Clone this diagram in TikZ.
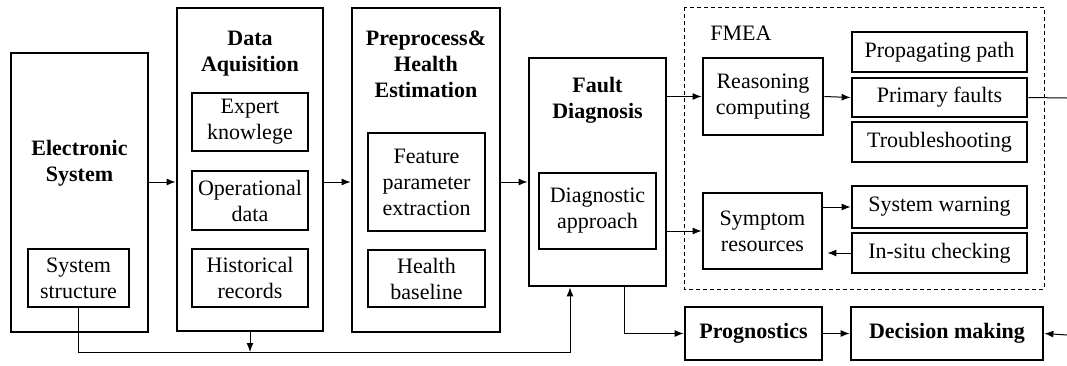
\documentclass[tikz,border=0pt]{standalone}
\usepackage{fontspec}
\setmainfont{Liberation Serif}
\usepackage{tikz}
\usetikzlibrary{arrows.meta}

\newcommand{\figfont}{\fontsize{11}{13}\selectfont}

\tikzset{
  outerbox/.style={draw, line width=1.4pt, inner sep=0pt},
  innerbox/.style={draw, line width=1.2pt, inner sep=0pt, align=center, font=\figfont},
  title/.style={font=\figfont\bfseries, align=center, inner sep=0pt},
  arr/.style={line width=0.5pt, -{Latex[length=4.5pt,width=3.5pt]}},
  wire/.style={line width=0.5pt},
}

\begin{document}
\begin{tikzpicture}[x=0.5pt, y=-0.5pt]
    \useasboundingbox (0,0) rectangle (1067,365);

    % Electronic system
    \node[outerbox, minimum width=68.5pt, minimum height=139.5pt] (es) at (79.5,192.5) {};
    \node[title] (estitle) at (79.5,163) {Electronic\\System};
    \node[innerbox, minimum width=50.5pt, minimum height=29pt] (ss) at (78.5,278) {System\\structure};

    % Data acquisition
    \node[outerbox, minimum width=73pt, minimum height=161.5pt] (da) at (250,169.5) {};
    \node[title] (datitle) at (250,54) {Data\\Aquisition};
    \node[innerbox, minimum width=58pt, minimum height=29pt] (ek) at (250,122) {Expert\\knowlege};
    \node[innerbox, minimum width=58pt, minimum height=29.5pt] (od) at (250,200.5) {Operational\\data};
    \node[innerbox, minimum width=58pt, minimum height=29pt] (hr) at (250,278) {Historical\\records};

    % Preprocess and health estimation
    \node[outerbox, minimum width=74pt, minimum height=162pt] (pp) at (426,170) {};
    \node[title] (pptitle) at (426,64) {Preprocess\&\\Health\\Estimation};
    \node[innerbox, minimum width=58.5pt, minimum height=49pt] (fp) at (426.5,182) {Feature\\parameter\\extraction};
    \node[innerbox, minimum width=58.5pt, minimum height=28.5pt] (hb) at (426.5,278.5) {Health\\baseline};

    % Fault diagnosis
    \node[outerbox, minimum width=68.5pt, minimum height=114pt] (fd) at (597.5,172) {};
    \node[title] (fdtitle) at (597.5,100) {Fault\\Diagnosis};
    \node[innerbox, minimum width=58.5pt, minimum height=38pt] (dap) at (597.5,211) {Diagnostic\\approach};

    % FMEA
    \draw[wire, dash pattern=on 2pt off 1.5pt] (684,7) rectangle (1044,289);
    \node[font=\figfont] (fmea) at (741,33) {FMEA};
    \node[innerbox, line width=1.4pt, minimum width=60pt, minimum height=38.5pt] (rc) at (763,96.5) {Reasoning\\computing};
    \node[innerbox, line width=1.4pt, minimum width=87.5pt, minimum height=20pt] (pg) at (939.5,52) {Propagating path};
    \node[innerbox, line width=1.4pt, minimum width=87.5pt, minimum height=19.5pt] (pf) at (939.5,97.5) {Primary faults};
    \node[innerbox, line width=1.4pt, minimum width=87.5pt, minimum height=20pt] (ts) at (939.5,142) {Troubleshooting};
    \node[innerbox, line width=1.4pt, minimum width=59.5pt, minimum height=38pt] (sr) at (762.5,231) {Symptom\\resources};
    \node[innerbox, line width=1.4pt, minimum width=87.5pt, minimum height=21pt] (sw) at (939.5,207) {System warning};
    \node[innerbox, line width=1.4pt, minimum width=87.5pt, minimum height=20pt] (ic) at (939.5,253) {In-situ checking};

    % Prognostics and decision
    \node[outerbox, minimum width=68.5pt, minimum height=26.5pt, font=\figfont\bfseries] (pr) at (753.5,333.5) {Prognostics};
    \node[outerbox, minimum width=96pt, minimum height=26.5pt, font=\figfont\bfseries] (dm) at (947,333.5) {Decision making};

    % Connections
    \coordinate (row) at (0,182);
    \coordinate (bus) at (0,352);
    \coordinate (outpf) at (1067,98);
    \coordinate (indm) at (1067,335);
    \draw[arr] (es.east |- row) -- (da.west |- row);
    \draw[arr] (da.east |- row) -- (pp.west |- row);
    \draw[arr] (pp.east |- row) -- (fd.west |- row);
    \draw[arr] (fd.east |- rc.west) -- (rc.west);
    \draw[arr] (fd.east |- sr.west) -- (sr.west);
    \draw[arr] (rc.east) -- (pf.west);
    \draw[wire] (pf.east) -- (outpf);
    \draw[arr] (sr.east |- sw.west) -- (sw.west);
    \draw[arr] (ic.west) -- ([xshift=2pt]sr.east |- ic.west);
    \draw[arr] ([xshift=13.25pt]fd.south) |- (pr.west);
    \draw[arr] (pr) -- (dm);
    \draw[arr] (indm) -- (dm.east);
    \draw[arr] (ss.south) |- ([xshift=-13.75pt]fd.south |- bus) -- ([xshift=-13.75pt]fd.south);
    \draw[arr] (da.south) -- (da.south |- bus);
\end{tikzpicture}
\end{document}
